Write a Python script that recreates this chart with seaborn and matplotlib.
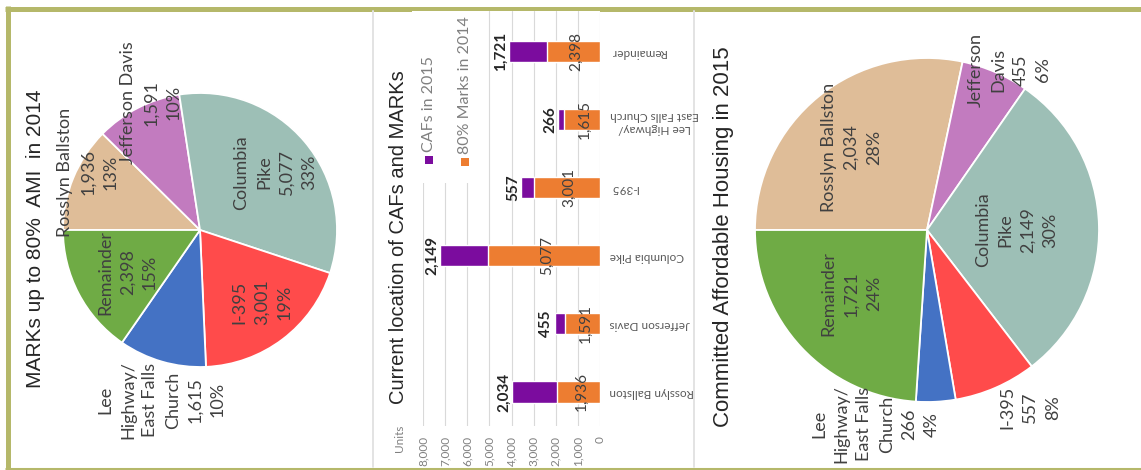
import pandas as pd
import seaborn as sns
import matplotlib.pyplot as plt
from matplotlib.patches import Rectangle

# data
sites = ["Rosslyn Ballston", "Jefferson Davis", "Columbia Pike", "I-395",
         "Lee Highway/\nEast Falls Church", "Remainder"]
marks_2014 = [1936, 1591, 5077, 3001, 1615, 2398]
cafs_2015 = [2034, 455, 2149, 557, 266, 1721]
marks_pct = [13, 10, 33, 19, 10, 15]
cafs_pct = [28, 6, 30, 8, 4, 24]

# wrapped names used on the pie labels
marks_names = ["Rosslyn Ballston", "Jefferson Davis", "Columbia\nPike", "I-395",
               "Lee\nHighway/\nEast Falls\nChurch", "Remainder"]
cafs_names = ["Rosslyn Ballston", "Jefferson\nDavis", "Columbia\nPike", "I-395",
              "Lee\nHighway/\nEast Falls\nChurch", "Remainder"]

site_colors = ["#dfbd98", "#c27bbf", "#9dbfb6", "#ff4b4b", "#4472c4", "#6fab45"]
purple = "#7b0c9e"
orange = "#ed7d31"
olive = "#b5b86a"
text_col = "#404040"

sns.set_theme(style="white")
plt.rcParams["font.family"] = ["Lato", "DejaVu Sans"]

W, H = 1141, 470
fig = plt.figure(figsize=(W / 100, H / 100), dpi=100)


def px_axes(left, top, width, height):
    return fig.add_axes([left / W, 1 - (top + height) / H, width / W, height / H])


bg = px_axes(0, 0, W, H)
bg.set_xlim(0, W)
bg.set_ylim(H, 0)
bg.axis("off")

# panel frame
bg.plot([5, W], [8.5, 8.5], color=olive, lw=3.6, solid_capstyle="butt")
bg.plot([7.5, 7.5], [6, H], color=olive, lw=3.6, solid_capstyle="butt")
bg.plot([5, W], [468.5, 468.5], color=olive, lw=2.2, solid_capstyle="butt")
bg.plot([373, 373], [11, 467], color="#e3e3e3", lw=1.4)
bg.plot([694, 694], [11, 467], color="#e3e3e3", lw=1.4)


def draw_pie(cx, cy, r, values, names, pct, label_pos):
    s = 2.5 * r
    ax = px_axes(cx - s / 2, cy - s / 2, s, s)
    ax.pie(values, colors=site_colors, startangle=180, counterclock=False,
           wedgeprops=dict(edgecolor="white", linewidth=1.3))
    ax.set_xlim(-1.25, 1.25)
    ax.set_ylim(-1.25, 1.25)
    ax.set_aspect("equal")
    ax.axis("off")
    for name, v, p, (u, w) in zip(names, values, pct, label_pos):
        ax.text(u, w, f"{name}\n{v:,}\n{p}%", rotation=90, ha="center", va="center",
                multialignment="center", fontsize=13, color=text_col, linespacing=1.5)
    return ax


# label spots in radius units from the pie centre
left_pos = [(-0.82, 0.42), (-0.36, 0.93), (0.55, 0.42), (0.45, -0.53), (-0.28, -1.24), (-0.53, -0.31)]
right_pos = [(-0.44, 0.48), (0.48, 0.93), (0.52, 0.0), (0.60, -1.03), (-0.30, -1.13), (-0.44, -0.37)]

draw_pie(200, 230, 137, marks_2014, marks_names, marks_pct, left_pos)
draw_pie(927, 230, 172, cafs_2015, cafs_names, cafs_pct, right_pos)

# middle: stacked bars, turned on their side
df = pd.DataFrame({"site": sites, "marks": marks_2014, "cafs": cafs_2015})
df["total"] = df["marks"] + df["cafs"]
order = sites[::-1]

bx = px_axes(423, 11, 177, 415)
sns.barplot(data=df, x="total", y="site", order=order, color=purple, width=0.31,
            saturation=1, errorbar=None, orient="h", ax=bx)
sns.barplot(data=df, x="marks", y="site", order=order, color=orange, width=0.31,
            saturation=1, errorbar=None, orient="h", ax=bx)
bx.set_xlim(8000, 0)
bx.set_ylim(5.5, -0.6)
ticks = list(range(0, 8001, 1000))
bx.set_xticks(ticks)
bx.set_xticklabels([f"{t:,}" for t in ticks], rotation=90, fontsize=8.5, color="#808080")
bx.tick_params(axis="x", length=0, pad=7)
bx.grid(axis="x", color="#d9d9d9", lw=0.8)
bx.set_axisbelow(True)
bx.yaxis.tick_right()
bx.tick_params(axis="y", length=0, pad=7, labelsize=8.5, labelcolor="#595959")
for lbl in bx.get_yticklabels():
    lbl.set_rotation(180)
    lbl.set_multialignment("center")
for s in bx.spines.values():
    s.set_visible(False)
bx.set_xlabel("")
bx.set_ylabel("")

lookup = df.set_index("site")
for i, site in enumerate(order):
    row = lookup.loc[site]
    bx.annotate(f"{row['cafs']:,}", (row["total"], i), xytext=(-1, 0), textcoords="offset points",
                rotation=90, ha="right", va="center", fontsize=11, fontweight="bold", color="#262626")
    bx.annotate(f"{row['marks']:,}", (row["marks"] / 2, i), xytext=(2, 0), textcoords="offset points",
                rotation=90, ha="center", va="center", fontsize=11, color=text_col)

# overlay for titles and the legend
fg = px_axes(0, 0, W, H)
fg.set_xlim(0, W)
fg.set_ylim(H, 0)
fg.axis("off")
fg.add_patch(Rectangle((412, 11), 66, 172, color="white", lw=0))
fg.add_patch(Rectangle((425, 156), 8, 8, color=purple, lw=0))
fg.add_patch(Rectangle((461, 158), 8, 8, color=orange, lw=0))
fg.text(429, 152, "CAFs in 2015", rotation=90, ha="center", va="bottom", fontsize=11.5, color="#808080")
fg.text(465, 154, "80% Marks in 2014", rotation=90, ha="center", va="bottom", fontsize=11.5, color="#808080")
fg.text(400, 452, "Units", rotation=90, ha="center", va="bottom", fontsize=8.5, color="#808080")

title_kw = dict(rotation=90, ha="center", va="center", color="#262626", family="Liberation Sans")
fg.text(36, 239, "MARKs up to 80%  AMI  in 2014", fontsize=15, **title_kw)
fg.text(398, 237, "Current location of CAFs and MARKs", fontsize=14.5, **title_kw)
fg.text(723, 237, "Committed Affordable Housing in 2015", fontsize=16, **title_kw)

fig.savefig("out.png", dpi=100)
